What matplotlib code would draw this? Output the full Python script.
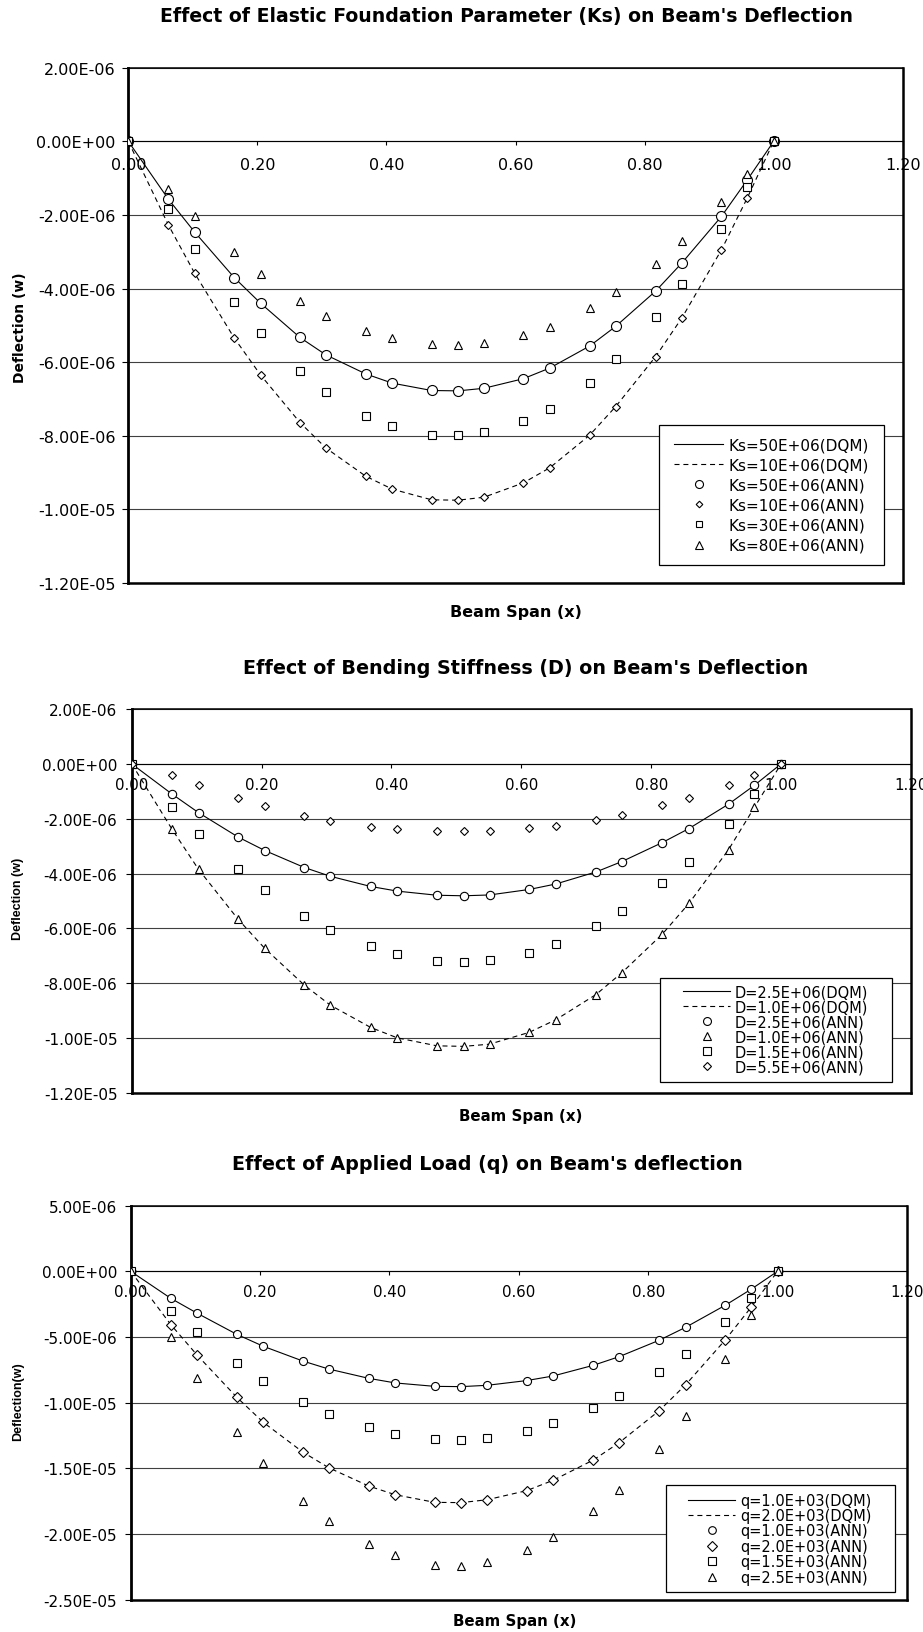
import matplotlib
matplotlib.use("Agg")
import matplotlib.pyplot as plt
from matplotlib import font_manager
from matplotlib.path import Path
from matplotlib.ticker import FixedLocator, FuncFormatter

# ---------------------------------------------------------------- data
# normalised stations along the beam span
span = [0.000, 0.062, 0.103, 0.164, 0.205, 0.266, 0.306, 0.368, 0.409, 0.470, 0.511,
        0.551, 0.612, 0.653, 0.715, 0.755, 0.817, 0.858, 0.919, 0.959, 1.000]

MICRO = 1e-6  # deflections below are listed in micro-units

# Effect of elastic foundation parameter Ks
ks50_dqm = [0, -1.57, -2.47, -3.70, -4.40, -5.33, -5.80, -6.32, -6.57, -6.77, -6.78,
            -6.71, -6.45, -6.16, -5.56, -5.03, -4.07, -3.30, -2.04, -1.05, 0]
ks10_dqm = [0, -2.27, -3.59, -5.34, -6.35, -7.64, -8.33, -9.10, -9.45, -9.74, -9.75,
            -9.67, -9.28, -8.87, -7.98, -7.21, -5.85, -4.79, -2.95, -1.54, 0]
ks50_ann = [0, -1.57, -2.47, -3.70, -4.40, -5.33, -5.80, -6.32, -6.57, -6.77, -6.78,
            -6.71, -6.45, -6.16, -5.56, -5.03, -4.07, -3.30, -2.04, -1.05, 0]
ks10_ann = [0, -2.27, -3.59, -5.34, -6.35, -7.64, -8.33, -9.10, -9.45, -9.74, -9.75,
            -9.67, -9.28, -8.87, -7.98, -7.21, -5.85, -4.79, -2.95, -1.54, 0]
ks30_ann = [0, -1.84, -2.92, -4.36, -5.20, -6.25, -6.81, -7.45, -7.73, -7.98, -7.98,
            -7.91, -7.60, -7.27, -6.56, -5.91, -4.78, -3.89, -2.39, -1.25, 0]
ks80_ann = [0, -1.30, -2.04, -3.02, -3.61, -4.35, -4.74, -5.16, -5.35, -5.52, -5.53,
            -5.49, -5.26, -5.04, -4.54, -4.10, -3.32, -2.70, -1.66, -0.89, 0]

# Effect of bending stiffness D
d25_dqm = [0, -1.10, -1.78, -2.67, -3.16, -3.78, -4.10, -4.47, -4.64, -4.79, -4.81,
           -4.78, -4.58, -4.38, -3.94, -3.56, -2.87, -2.36, -1.47, -0.78, 0]
d10_dqm = [0, -2.38, -3.85, -5.67, -6.73, -8.07, -8.80, -9.61, -9.99, -10.28, -10.30,
           -10.22, -9.79, -9.33, -8.41, -7.61, -6.21, -5.09, -3.13, -1.58, 0]
d25_ann = [0, -1.10, -1.78, -2.67, -3.16, -3.78, -4.10, -4.47, -4.64, -4.79, -4.81,
           -4.78, -4.58, -4.38, -3.94, -3.56, -2.87, -2.36, -1.47, -0.78, 0]
d10_ann = [0, -2.38, -3.85, -5.67, -6.73, -8.07, -8.80, -9.61, -9.99, -10.28, -10.30,
           -10.22, -9.79, -9.33, -8.41, -7.61, -6.21, -5.09, -3.13, -1.58, 0]
d15_ann = [0, -1.56, -2.56, -3.85, -4.59, -5.54, -6.06, -6.64, -6.95, -7.18, -7.21,
           -7.16, -6.88, -6.58, -5.90, -5.35, -4.34, -3.56, -2.19, -1.10, 0]
d55_ann = [0, -0.42, -0.76, -1.25, -1.53, -1.90, -2.10, -2.30, -2.39, -2.46, -2.46,
           -2.45, -2.34, -2.25, -2.04, -1.87, -1.50, -1.24, -0.78, -0.40, 0]

# Effect of applied load q
q10_dqm = [0, -2.06, -3.20, -4.80, -5.71, -6.83, -7.44, -8.15, -8.50, -8.76, -8.78,
           -8.68, -8.32, -7.97, -7.16, -6.50, -5.25, -4.26, -2.59, -1.37, 0]
q20_dqm = [0, -4.06, -6.40, -9.59, -11.50, -13.76, -14.95, -16.35, -17.01, -17.59, -17.61,
           -17.39, -16.70, -15.91, -14.37, -13.05, -10.61, -8.63, -5.23, -2.74, 0]
q10_ann = [0, -2.06, -3.20, -4.80, -5.71, -6.83, -7.44, -8.15, -8.50, -8.76, -8.78,
           -8.68, -8.32, -7.97, -7.16, -6.50, -5.25, -4.26, -2.59, -1.37, 0]
q20_ann = [0, -4.06, -6.40, -9.59, -11.50, -13.76, -14.95, -16.35, -17.01, -17.59, -17.61,
           -17.39, -16.70, -15.91, -14.37, -13.05, -10.61, -8.63, -5.23, -2.74, 0]
q15_ann = [0, -2.99, -4.64, -6.98, -8.32, -9.97, -10.86, -11.88, -12.36, -12.77, -12.82,
           -12.66, -12.13, -11.57, -10.43, -9.49, -7.69, -6.32, -3.86, -2.06, 0]
q25_ann = [0, -5.00, -8.12, -12.23, -14.59, -17.49, -18.98, -20.76, -21.60, -22.34, -22.41,
           -22.16, -21.24, -20.20, -18.25, -16.62, -13.53, -10.99, -6.65, -3.30, 0]

x_ticks = [0.0, 0.2, 0.4, 0.6, 0.8, 1.0, 1.2]
y_ticks_ks = [-1.2e-5, -1.0e-5, -8e-6, -6e-6, -4e-6, -2e-6, 0.0, 2e-6]
y_ticks_d = [-1.2e-5, -1.0e-5, -8e-6, -6e-6, -4e-6, -2e-6, 0.0, 2e-6]
y_ticks_q = [-2.5e-5, -2.0e-5, -1.5e-5, -1.0e-5, -5e-6, 0.0, 5e-6]

labels_ks = ["Ks=50E+06(DQM)", "Ks=10E+06(DQM)", "Ks=50E+06(ANN)",
             "Ks=10E+06(ANN)", "Ks=30E+06(ANN)", "Ks=80E+06(ANN)"]
labels_d = ["D=2.5E+06(DQM)", "D=1.0E+06(DQM)", "D=2.5E+06(ANN)",
            "D=1.0E+06(ANN)", "D=1.5E+06(ANN)", "D=5.5E+06(ANN)"]
labels_q = ["q=1.0E+03(DQM)", "q=2.0E+03(DQM)", "q=1.0E+03(ANN)",
            "q=2.0E+03(ANN)", "q=1.5E+03(ANN)", "q=2.5E+03(ANN)"]

# ---------------------------------------------------------------- layout
W, H = 923, 1633
plt.rcParams["font.family"] = ["DejaVu Sans"]
fig = plt.figure(figsize=(W / 100, H / 100), dpi=100)
fig.patch.set_facecolor("white")

installed = {f.name for f in font_manager.fontManager.ttflist}
if "Liberation Sans" in installed:
    narrow = dict(family=["Liberation Sans", "DejaVu Sans"], fontsize=9)
else:
    narrow = dict(family=["DejaVu Sans"], fontsize=7.6)


def px_axes(left, top, right, bottom):
    return fig.add_axes([left / W, 1 - bottom / H, (right - left) / W, (bottom - top) / H])


def fig_text(x, y, s, **kw):
    fig.text(x / W, 1 - y / H, s, ha="center", va="center", **kw)


def boxed(dx, dy):
    def style(x0, y0, width, height, mutation_size):
        x0 -= dx
        y0 -= dy
        width += 2 * dx
        height += 2 * dy
        return Path([(x0, y0), (x0 + width, y0), (x0 + width, y0 + height),
                     (x0, y0 + height), (x0, y0)],
                    [Path.MOVETO, Path.LINETO, Path.LINETO, Path.LINETO, Path.CLOSEPOLY])
    return style


def sci(v, _pos=None):
    return f"{v:.2E}"


DASH = (0, (4.5, 3.5))


def setup(ax, yticks, ysize, ypad, xsize, xpad):
    ax.set_xlim(0, 1.2)
    ax.set_ylim(yticks[0], yticks[-1])
    ax.xaxis.set_major_locator(FixedLocator(x_ticks))
    ax.xaxis.set_major_formatter(FuncFormatter(lambda v, p: f"{v:.2f}"))
    ax.yaxis.set_major_locator(FixedLocator(yticks))
    ax.yaxis.set_major_formatter(FuncFormatter(sci))
    ax.grid(axis="y", color="0.25", lw=0.8, zorder=0)
    ax.set_axisbelow(True)
    # horizontal axis crosses at zero deflection
    ax.spines["bottom"].set_position(("data", 0))
    ax.spines["bottom"].set_linewidth(0.8)
    ax.spines["left"].set_linewidth(2.0)
    ax.spines["right"].set_linewidth(1.8)
    ax.spines["top"].set_linewidth(1.1)
    ax.plot([0, 1], [0, 0], transform=ax.transAxes, color="black", lw=1.8,
            clip_on=False, solid_capstyle="projecting", zorder=5)
    ax.tick_params(axis="y", direction="out", length=4.3, width=0.8,
                   labelsize=ysize, pad=ypad)
    ax.tick_params(axis="x", direction="out", length=3.0, width=0.8,
                   labelsize=xsize, pad=xpad)
    for lab in ax.get_xticklabels():
        lab.set_zorder(6)


def draw_series(ax, dqm_solid, dqm_dash, ann, sizes):
    hs = []
    hs.append(ax.plot(span, [v * MICRO for v in dqm_solid], color="black", lw=0.8,
                      zorder=3)[0])
    hs.append(ax.plot(span, [v * MICRO for v in dqm_dash], color="black", lw=0.8,
                      linestyle=DASH, zorder=3)[0])
    for (vals, mk), ms in zip(ann, sizes):
        hs.append(ax.plot(span, [v * MICRO for v in vals], linestyle="None", marker=mk,
                          ms=ms, mfc="white", mec="black", mew=0.8, zorder=4)[0])
    return hs


legends = []


def add_legend(ax, handles, labels, center, size, fontsize, labelspacing, markerscale):
    leg = ax.legend(handles, labels, loc="center",
                    bbox_to_anchor=(center[0] / W, 1 - center[1] / H),
                    bbox_transform=fig.transFigure, fontsize=fontsize,
                    handlelength=3.2, handletextpad=0.35, labelspacing=labelspacing,
                    borderpad=0.2, frameon=True, fancybox=False, framealpha=1,
                    edgecolor="black", markerscale=markerscale)
    leg.get_frame().set_linewidth(0.9)
    leg.set_zorder(10)
    legends.append((leg, size))


# ---- Chart 1: elastic foundation parameter
ax1 = px_axes(128.3, 68.7, 902.8, 584.0)
setup(ax1, y_ticks_ks, 11.5, 4.7, 11.5, 8.5)
h1 = draw_series(ax1, ks50_dqm, ks10_dqm,
                 [(ks50_ann, "o"), (ks10_ann, "D"), (ks30_ann, "s"), (ks80_ann, "^")],
                 [7.2, 4.2, 5.2, 6.4])
add_legend(ax1, h1, labels_ks, (771.8, 496.0), (225, 140), 11, 0.34, 0.8)
fig_text(506, 16.5, "Effect of Elastic Foundation Parameter (Ks) on Beam's Deflection",
         fontsize=13.6, fontweight="bold")
fig_text(19.7, 327.5, "Deflection (w)", fontsize=10, fontweight="bold", rotation=90)
fig_text(516, 613, "Beam Span (x)", fontsize=11.5, fontweight="bold")

# ---- Chart 2: bending stiffness
ax2 = px_axes(131.7, 710.0, 911.0, 1094.0)
setup(ax2, y_ticks_d, 11, 6.0, 10.8, 6.3)
h2 = draw_series(ax2, d25_dqm, d10_dqm,
                 [(d25_ann, "o"), (d10_ann, "^"), (d15_ann, "s"), (d55_ann, "D")],
                 [6.0, 6.2, 5.6, 4.0])
add_legend(ax2, h2, labels_d, (775.9, 1030.5), (232, 104), 10.5, 0.0, 0.95)
fig_text(526, 668.5, "Effect of Bending Stiffness (D) on Beam's Deflection",
         fontsize=13.8, fontweight="bold")
fig_text(17.8, 899, "Deflection (w)", fontweight="bold", rotation=90, **narrow)
fig_text(521, 1116.3, "Beam Span (x)", fontsize=10.8, fontweight="bold")

# ---- Chart 3: applied load
ax3 = px_axes(130.7, 1206.6, 907.0, 1600.7)
setup(ax3, y_ticks_q, 11, 5.5, 10.8, 6.3)
h3 = draw_series(ax3, q10_dqm, q20_dqm,
                 [(q10_ann, "o"), (q20_ann, "D"), (q15_ann, "s"), (q25_ann, "^")],
                 [5.8, 5.0, 5.6, 6.0])
add_legend(ax3, h3, labels_q, (780.0, 1539.7), (229, 107), 10.5, 0.03, 0.95)
fig_text(487.3, 1164, "Effect of Applied Load (q) on Beam's deflection",
         fontsize=13.8, fontweight="bold")
fig_text(17.8, 1401.5, "Deflection(w)", fontweight="bold", rotation=90, **narrow)
fig_text(515, 1622, "Beam Span (x)", fontsize=10.8, fontweight="bold")

# stretch each legend frame to its box size
fig.canvas.draw()
renderer = fig.canvas.get_renderer()
for leg, (bw, bh) in legends:
    bb = leg.get_window_extent(renderer)
    leg.get_frame().set_boxstyle(boxed((bw - bb.width) / 2, (bh - bb.height) / 2))

fig.savefig("out.png", dpi=100, facecolor="white")
